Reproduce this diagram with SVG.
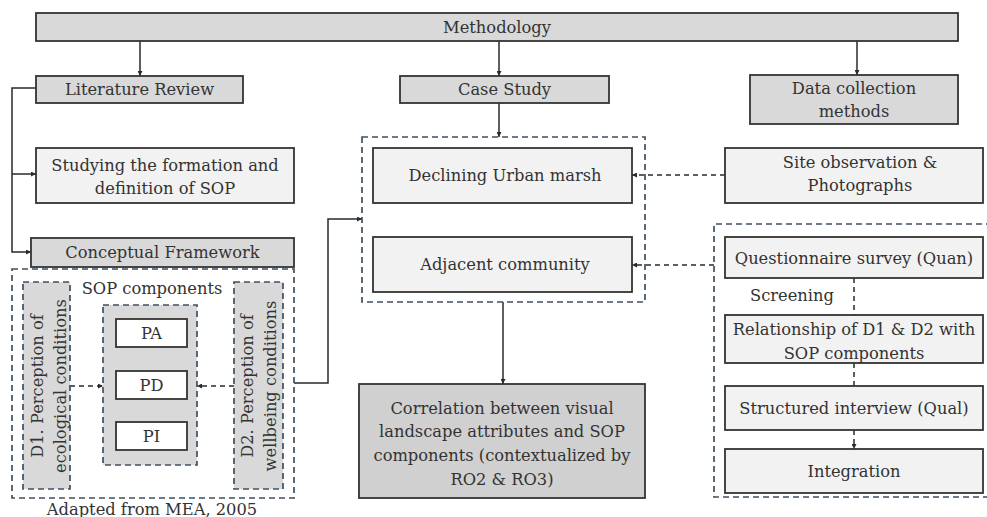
<svg xmlns="http://www.w3.org/2000/svg" width="987" height="517" viewBox="0 0 987 517">
<defs>
<style>
text{font-family:"DejaVu Serif","Liberation Serif",serif;font-size:16.3px;fill:#333333;text-anchor:middle;dominant-baseline:central}
.box{stroke:#333333;stroke-width:1.8}
.dk{fill:#d9d9d9}
.lt{fill:#f2f2f2}
.wh{fill:#ffffff}
.dash{fill:none;stroke:#3f5060;stroke-width:1.7;stroke-dasharray:6,4}
.dashg{fill:#d9d9d9;stroke:#3f5060;stroke-width:1.7;stroke-dasharray:6,4}
.ln{fill:none;stroke:#2a2a2a;stroke-width:1.5}
.dl{fill:none;stroke:#2a2a2a;stroke-width:1.5;stroke-dasharray:5,4}
</style>
<marker id="ah" viewBox="0 0 10 10" refX="10" refY="5" markerWidth="5" markerHeight="5" orient="auto" markerUnits="userSpaceOnUse">
<path d="M0,0L10,5L0,10z" fill="#2a2a2a"/>
</marker>
</defs>

<g id="connectors">
<path class="ln" d="M140,41V76" marker-end="url(#ah)"/>
<path class="ln" d="M499,41V76" marker-end="url(#ah)"/>
<path class="ln" d="M857,41V75" marker-end="url(#ah)"/>
<path class="ln" d="M36,88H12V252H31" marker-end="url(#ah)"/>
<path class="ln" d="M12,174H36" marker-end="url(#ah)"/>
<path class="ln" d="M499,103V137" marker-end="url(#ah)"/>
<path class="ln" d="M294,383H328V219H362" marker-end="url(#ah)"/>
<path class="ln" d="M503,302V384" marker-end="url(#ah)"/>
<path class="dl" d="M725,175H632" marker-end="url(#ah)"/>
<path class="dl" d="M714,265H632" marker-end="url(#ah)"/>
<path class="dl" d="M70,386H103" marker-end="url(#ah)"/>
<path class="dl" d="M234,386H197" marker-end="url(#ah)"/>
<path class="dl" d="M854,278V315"/>
<path class="dl" d="M854,363V386"/>
<path class="dl" d="M854,430V449" marker-end="url(#ah)"/>
</g>

<g id="methodology"><rect class="box dk" x="36" y="13" width="922" height="28"/><text x="497" y="27">Methodology</text></g>
<g id="literature-review"><rect class="box dk" x="36" y="76" width="207" height="27"/><text x="139.5" y="89.5">Literature Review</text></g>
<g id="case-study"><rect class="box dk" x="400" y="76" width="209" height="27"/><text x="504.5" y="89.5">Case Study</text></g>
<g id="data-collection"><rect class="box dk" x="750" y="75" width="208" height="49"/><text x="854" y="88">Data collection</text><text x="854" y="111">methods</text></g>
<g id="studying"><rect class="box lt" x="36" y="148" width="258" height="55"/><text x="165" y="165">Studying the formation and</text><text x="165" y="188">definition of SOP</text></g>
<g id="conceptual-framework"><rect class="box dk" x="31" y="238" width="263" height="29"/><text x="162.5" y="252.5">Conceptual Framework</text></g>

<g id="framework-group">
<rect class="dash" x="12" y="269" width="282" height="229"/>
<text x="152" y="288">SOP components</text>
<text x="152" y="509">Adapted from MEA, 2005</text>
</g>
<g id="d1"><rect class="dashg" x="23" y="282" width="47" height="207"/>
<g transform="translate(48,386) rotate(-90)"><text x="0" y="-11">D1. Perception of</text><text x="0" y="12">ecological conditions</text></g></g>
<g id="d2"><rect class="dashg" x="234" y="282" width="49" height="207"/>
<g transform="translate(258,386) rotate(-90)"><text x="0" y="-11">D2. Perception of</text><text x="0" y="12">wellbeing conditions</text></g></g>
<g id="sop-components"><rect class="dashg" x="103" y="305" width="94" height="160"/></g>
<g id="pa"><rect class="box wh" x="116" y="319" width="71" height="28"/><text x="151.5" y="333">PA</text></g>
<g id="pd"><rect class="box wh" x="116" y="371" width="71" height="28"/><text x="151.5" y="385">PD</text></g>
<g id="pi"><rect class="box wh" x="116" y="422" width="71" height="28"/><text x="151.5" y="436">PI</text></g>

<g id="case-group"><rect class="dash" x="362" y="137" width="283" height="165"/></g>
<g id="declining-marsh"><rect class="box lt" x="373" y="148" width="259" height="55"/><text x="505" y="175.5">Declining Urban marsh</text></g>
<g id="adjacent-community"><rect class="box lt" x="373" y="237" width="259" height="55"/><text x="505" y="264.5">Adjacent community</text></g>
<g id="correlation"><rect class="box" fill="#d0d0d0" x="359" y="384" width="286" height="114"/>
<text x="502" y="408">Correlation between visual</text><text x="502" y="431.5">landscape attributes and SOP</text><text x="502" y="455">components (contextualized by</text><text x="502" y="479">RO2 &amp; RO3)</text></g>

<g id="site-observation"><rect class="box lt" x="725" y="148" width="258" height="55"/><text x="860" y="162">Site observation &amp;</text><text x="860" y="185">Photographs</text></g>
<g id="survey-group"><path class="dash" d="M992,224H714V497H992"/><text x="792" y="295">Screening</text></g>
<g id="questionnaire"><rect class="box lt" x="725" y="237" width="258" height="41"/><text x="854" y="258">Questionnaire survey (Quan)</text></g>
<g id="relationship"><rect class="box lt" x="725" y="315" width="258" height="48"/><text x="854" y="329">Relationship of D1 &amp; D2 with</text><text x="854" y="353">SOP components</text></g>
<g id="structured-interview"><rect class="box lt" x="725" y="386" width="258" height="44"/><text x="854" y="408">Structured interview (Qual)</text></g>
<g id="integration"><rect class="box lt" x="725" y="449" width="258" height="44"/><text x="854" y="471">Integration</text></g>
</svg>
